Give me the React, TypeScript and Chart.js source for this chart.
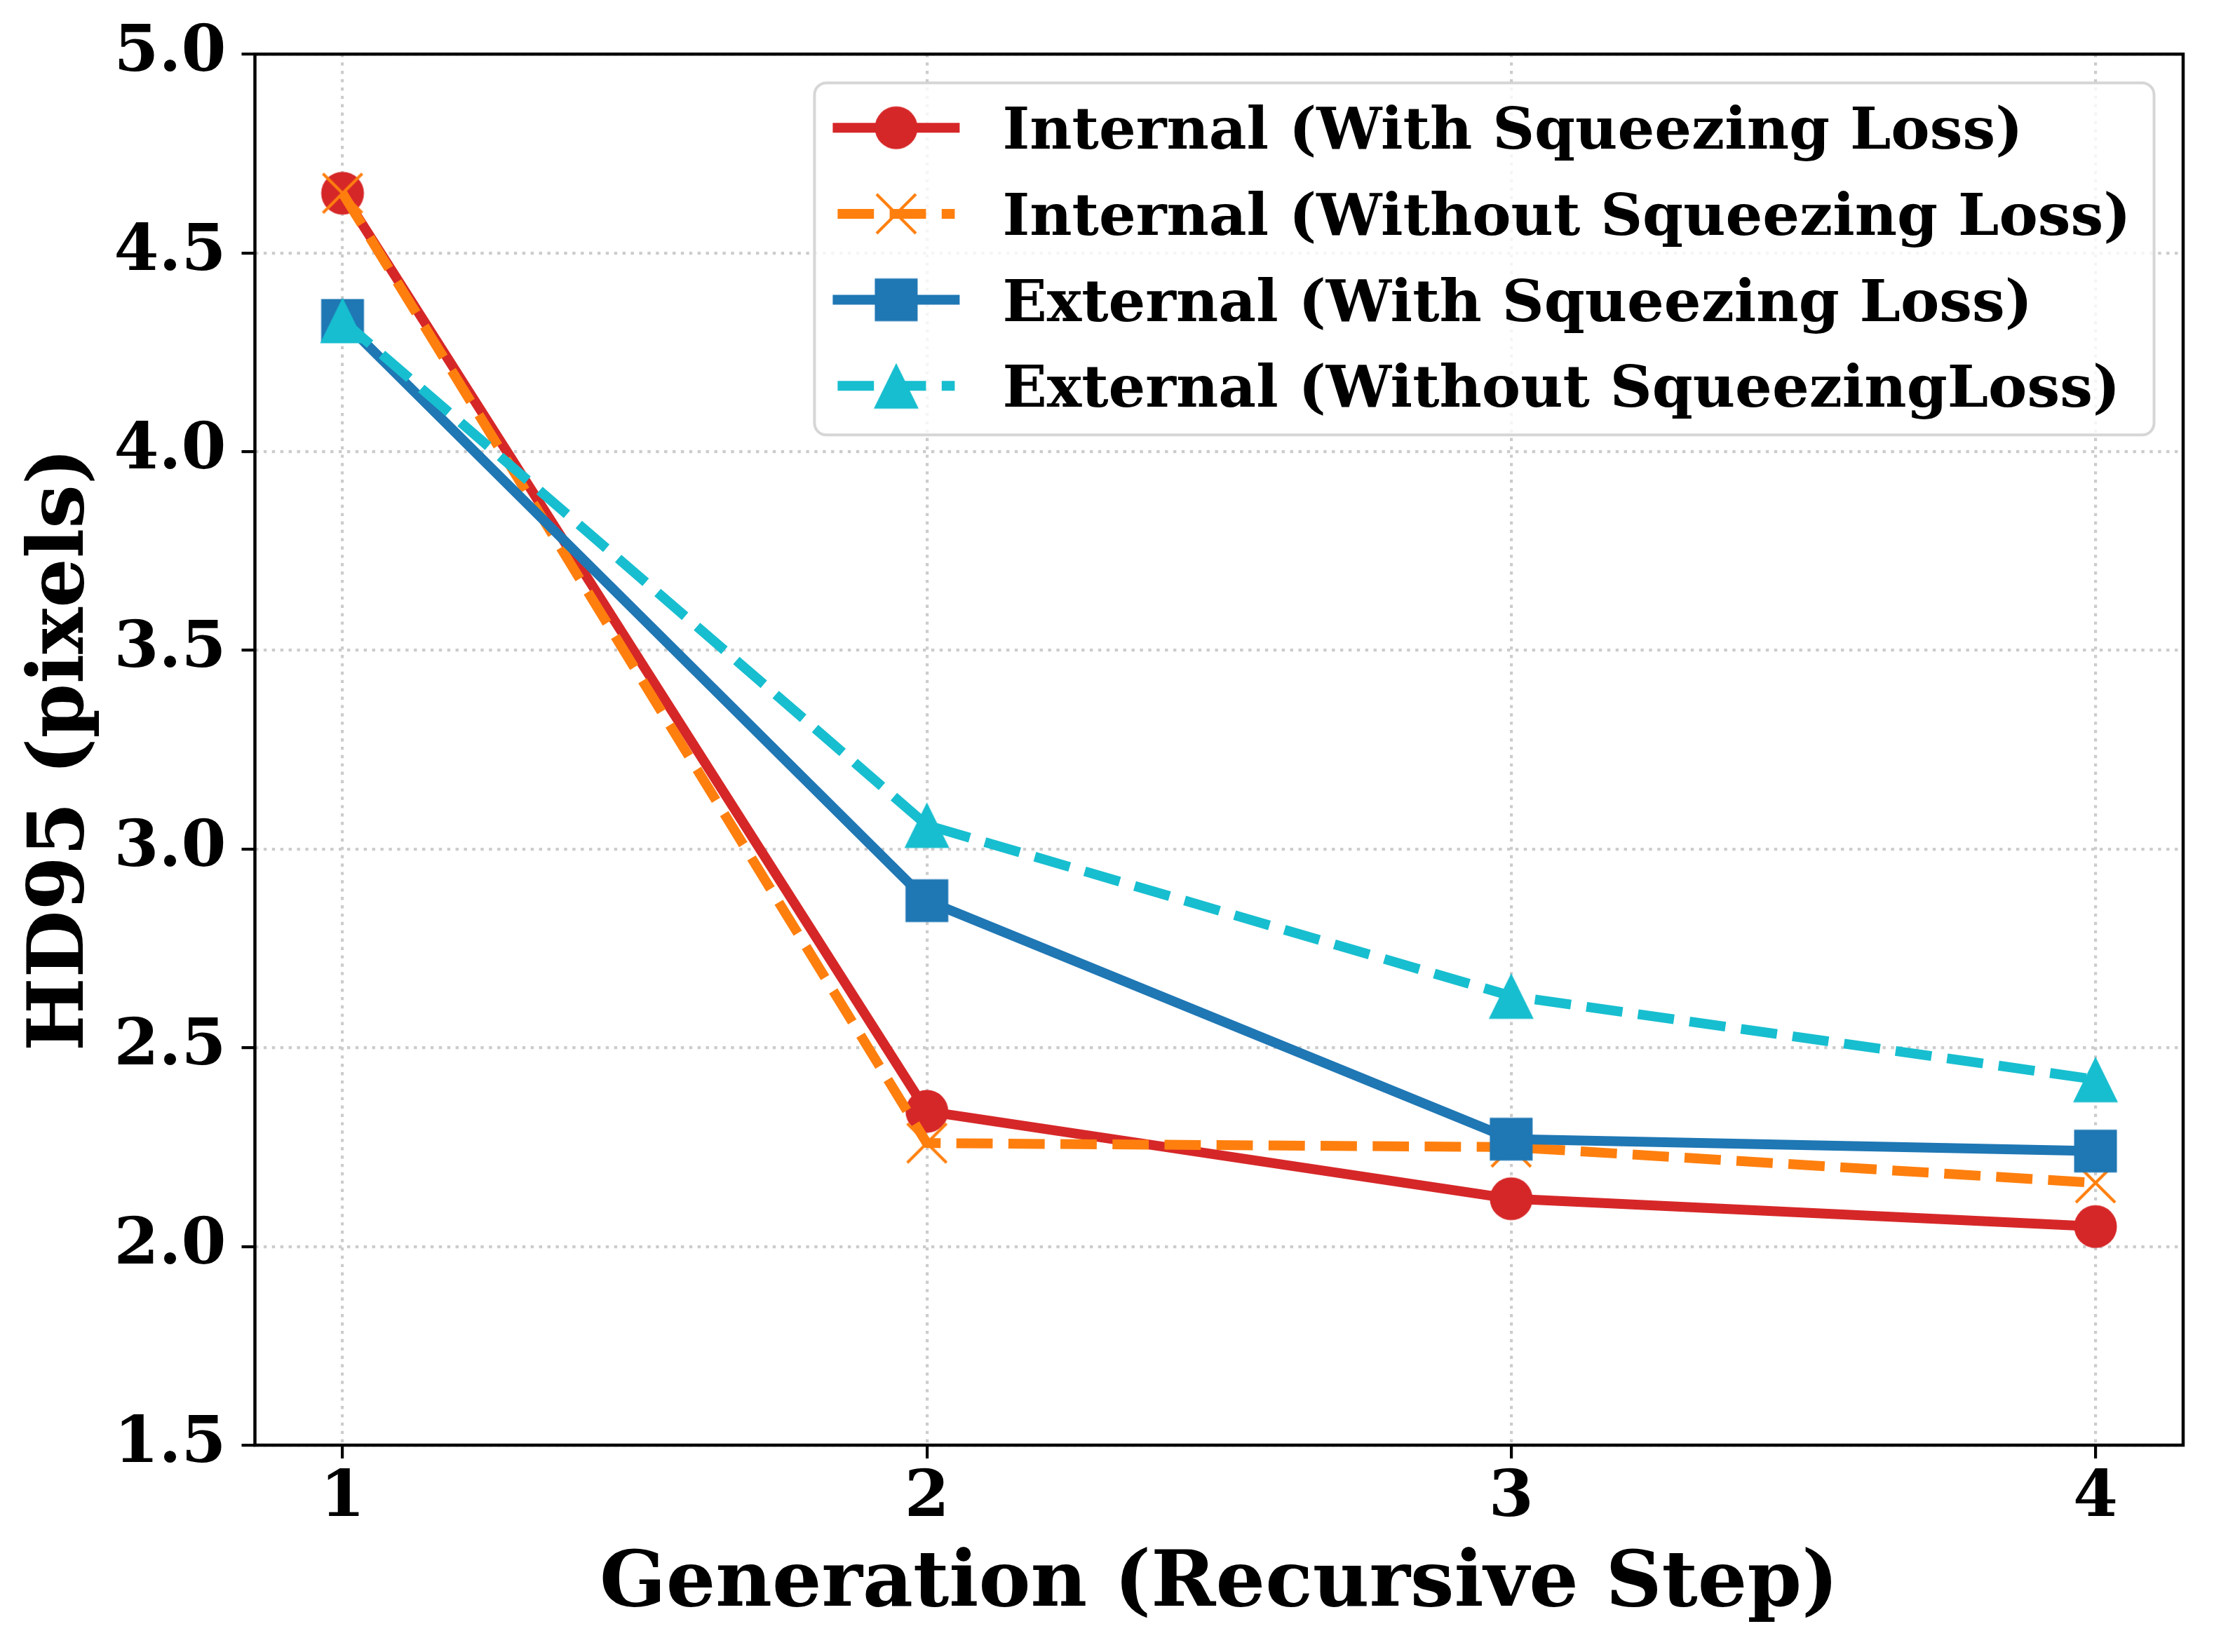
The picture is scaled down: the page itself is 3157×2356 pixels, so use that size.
import React, { useEffect, useRef } from 'react';
import { Chart, registerables } from 'chart.js';

Chart.register(...registerables);

// ---- data ----
const generations = [1, 2, 3, 4];
const internalWith = [4.65, 2.34, 2.12, 2.05];
const internalWithout = [4.65, 2.26, 2.25, 2.16];
const externalWith = [4.33, 2.87, 2.27, 2.24];
const externalWithout = [4.33, 3.06, 2.63, 2.42];
const seriesLabels = [
  'Internal (With Squeezing Loss)',
  'Internal (Without Squeezing Loss)',
  'External (With Squeezing Loss)',
  'External (Without SqueezingLoss)',
];
const xTickValues = [1, 2, 3, 4];
const yTickValues = [1.5, 2.0, 2.5, 3.0, 3.5, 4.0, 4.5, 5.0];
const xTitle = 'Generation (Recursive Step)';
const yTitle = 'HD95 (pixels)';

const FONT = "'DejaVu Serif', serif";
const RED = '#d62728';
const ORANGE = '#ff7f0e';
const BLUE = '#1f77b4';
const CYAN = '#17becf';
const LW = 14;
const DASH = [3.7 * LW, 1.6 * LW];

function makeMarker(kind: string, color: string): HTMLCanvasElement {
  const S = 80;
  const c = document.createElement('canvas');
  c.width = S;
  c.height = S;
  const g = c.getContext('2d')!;
  const m = S / 2;
  g.fillStyle = color;
  g.strokeStyle = color;
  if (kind === 'circle') {
    g.beginPath();
    g.arc(m, m, 30.5, 0, Math.PI * 2);
    g.fill();
  } else if (kind === 'square') {
    g.fillRect(m - 30.5, m - 30.5, 61, 61);
  } else if (kind === 'triangle') {
    g.beginPath();
    g.moveTo(m, m - 32.5);
    g.lineTo(m + 32, m + 32.5);
    g.lineTo(m - 32, m + 32.5);
    g.closePath();
    g.fill();
  } else if (kind === 'x') {
    g.lineWidth = 4.2;
    g.lineCap = 'butt';
    g.beginPath();
    g.moveTo(m - 28, m - 28);
    g.lineTo(m + 28, m + 28);
    g.moveTo(m + 28, m - 28);
    g.lineTo(m - 28, m + 28);
    g.stroke();
  }
  return c;
}

const framePlugin = {
  id: 'mplFrame',
  afterDatasetsDraw(chart: any) {
    const { ctx, chartArea } = chart;
    ctx.save();
    ctx.lineWidth = 4.5;
    ctx.strokeStyle = '#000';
    ctx.setLineDash([]);
    ctx.strokeRect(chartArea.left, chartArea.top, chartArea.right - chartArea.left, chartArea.bottom - chartArea.top);
    ctx.restore();
  },
};

function roundRectPath(ctx: CanvasRenderingContext2D, x: number, y: number, w: number, h: number, r: number) {
  ctx.beginPath();
  ctx.moveTo(x + r, y);
  ctx.lineTo(x + w - r, y);
  ctx.arcTo(x + w, y, x + w, y + r, r);
  ctx.lineTo(x + w, y + h - r);
  ctx.arcTo(x + w, y + h, x + w - r, y + h, r);
  ctx.lineTo(x + r, y + h);
  ctx.arcTo(x, y + h, x, y + h - r, r);
  ctx.lineTo(x, y + r);
  ctx.arcTo(x, y, x + r, y, r);
  ctx.closePath();
}

const legendPlugin = {
  id: 'mplLegend',
  afterDraw(chart: any) {
    const { ctx, chartArea } = chart;
    const fs = 83;
    ctx.save();
    ctx.font = `bold ${fs}px ${FONT}`;
    const items = chart.data.datasets;
    const textW = Math.max(...items.map((d: any) => ctx.measureText(d.label).width));
    const pad = 33;
    const handle = 167;
    const textPad = 68;
    const rowGap = 122.7;
    const edgeTop = 64;
    const edgeBottom = 70;
    const right = chartArea.right - 41.5;
    const top = chartArea.top + 41;
    const width = pad + handle + textPad + textW + pad;
    const left = right - width;
    const height = edgeTop + edgeBottom + rowGap * (items.length - 1);
    roundRectPath(ctx, left, top, width, height, 17);
    ctx.fillStyle = 'rgba(255,255,255,0.8)';
    ctx.fill();
    ctx.lineWidth = 4;
    ctx.strokeStyle = 'rgba(204,204,204,0.8)';
    ctx.stroke();
    items.forEach((d: any, i: number) => {
      const cy = top + edgeTop + i * rowGap;
      const x0 = left + pad;
      const x1 = x0 + handle;
      ctx.beginPath();
      ctx.setLineDash(d.borderDash || []);
      ctx.lineDashOffset = 0;
      ctx.lineCap = d.borderCapStyle || 'butt';
      ctx.lineWidth = d.borderWidth;
      ctx.strokeStyle = d.borderColor;
      ctx.moveTo(x0, cy);
      ctx.lineTo(x1, cy);
      ctx.stroke();
      ctx.setLineDash([]);
      const img = d.pointStyle as HTMLCanvasElement;
      ctx.drawImage(img, (x0 + x1) / 2 - img.width / 2, cy - img.height / 2);
      ctx.fillStyle = '#000';
      ctx.textBaseline = 'alphabetic';
      ctx.textAlign = 'left';
      ctx.fillText(d.label, x1 + textPad, cy + 30);
    });
    ctx.restore();
  },
};

export default function App() {
  const ref = useRef<HTMLCanvasElement | null>(null);

  useEffect(() => {
    document.body.style.margin = '0';
    const canvas = ref.current;
    if (!canvas) return;

    const pts = (vals: number[]) => generations.map((g, i) => ({ x: g, y: vals[i] }));

    const mk = (
      label: string,
      vals: number[],
      color: string,
      marker: string,
      dashed: boolean,
      order: number
    ) => ({
      label,
      data: pts(vals),
      borderColor: color,
      backgroundColor: color,
      borderWidth: LW,
      borderDash: dashed ? DASH : [],
      borderCapStyle: dashed ? 'butt' : 'square',
      borderJoinStyle: 'round',
      tension: 0,
      fill: false,
      pointStyle: makeMarker(marker, color),
      pointRadius: 30,
      pointHoverRadius: 30,
      order,
    });

    const datasets = [
      mk(seriesLabels[0], internalWith, RED, 'circle', false, 4),
      mk(seriesLabels[1], internalWithout, ORANGE, 'x', true, 3),
      mk(seriesLabels[2], externalWith, BLUE, 'square', false, 2),
      mk(seriesLabels[3], externalWithout, CYAN, 'triangle', true, 1),
    ];

    const gridDash = [4.4, 7.5];
    const tickFont = { family: FONT, size: 92, weight: 'bold' as const };
    const titleFont = { family: FONT, size: 111, weight: 'bold' as const };

    const chart = new Chart(canvas, {
      type: 'line',
      data: { datasets: datasets as any },
      options: {
        animation: false,
        responsive: false,
        maintainAspectRatio: false,
        devicePixelRatio: 1,
        events: [],
        layout: { padding: { top: 72, right: 39, left: 0, bottom: 0 } },
        plugins: {
          legend: { display: false },
          tooltip: { enabled: false },
          title: { display: false },
        },
        scales: {
          x: {
            type: 'linear',
            min: 0.85,
            max: 4.15,
            afterBuildTicks: (axis: any) => {
              axis.ticks = xTickValues.map((v) => ({ value: v }));
            },
            afterFit: (axis: any) => {
              axis.height = 295;
            },
            ticks: {
              autoSkip: false,
              maxRotation: 0,
              minRotation: 0,
              padding: 3,
              color: '#000',
              font: tickFont,
              callback: (v: any) => String(v),
            },
            grid: {
              display: true,
              drawOnChartArea: true,
              drawTicks: true,
              color: '#cccccc',
              lineWidth: 4.2,
              tickColor: '#000',
              tickWidth: 4.2,
              tickLength: 19,
              tickBorderDash: [],
              borderDash: gridDash,
            } as any,
            border: { display: false, dash: gridDash } as any,
            title: {
              display: true,
              text: xTitle,
              color: '#000',
              font: titleFont,
              padding: { top: 0, bottom: 28 },
            },
          },
          y: {
            type: 'linear',
            min: 1.5,
            max: 5.0,
            afterBuildTicks: (axis: any) => {
              axis.ticks = yTickValues.map((v) => ({ value: v }));
            },
            afterFit: (axis: any) => {
              axis.width = 363.5;
            },
            ticks: {
              autoSkip: false,
              padding: 22,
              color: '#000',
              font: tickFont,
              callback: (v: any) => Number(v).toFixed(1),
            },
            grid: {
              display: true,
              drawOnChartArea: true,
              drawTicks: true,
              color: '#cccccc',
              lineWidth: 4.2,
              tickColor: '#000',
              tickWidth: 4.2,
              tickLength: 19,
              tickBorderDash: [],
              borderDash: gridDash,
            } as any,
            border: { display: false, dash: gridDash } as any,
            title: {
              display: true,
              text: yTitle,
              color: '#000',
              font: titleFont,
              padding: { top: 23, bottom: 0 },
            },
          },
        },
      } as any,
      plugins: [framePlugin, legendPlugin],
    });

    return () => {
      chart.destroy();
    };
  }, []);

  return (
    <canvas
      ref={ref}
      width={3157}
      height={2356}
      style={{ display: 'block', width: '3157px', height: '2356px' }}
    />
  );
}
